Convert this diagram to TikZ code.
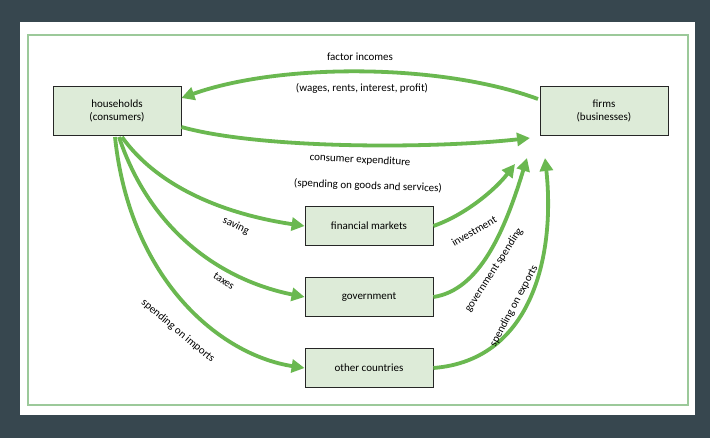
\documentclass[tikz,border=0pt]{standalone}
\usepackage{fontspec}
\setmainfont{Carlito}
\usetikzlibrary{arrows.meta}
\definecolor{bgdark}{HTML}{37474F}
\definecolor{gline}{HTML}{6AB850}
\definecolor{frame}{HTML}{9CC99A}
\definecolor{boxfill}{HTML}{DDEBD8}
\begin{document}
\begin{tikzpicture}[x=1pt,y=-1pt,
  box/.style={draw=black!85,fill=boxfill,line width=0.8pt,minimum width=128pt,align=center,font=\fontsize{11}{13}\selectfont},
  flow/.style={draw=gline,line width=3.8pt,-{Triangle[length=13pt,width=13pt]}},
  lbl/.style={font=\fontsize{11}{13}\selectfont,inner sep=1pt}]
\useasboundingbox (0,0) rectangle (710,438);
\fill[bgdark] (0,0) rectangle (710,438);
\fill[white] (20,22) rectangle (695,415);
\draw[frame,line width=1.3pt] (28,35) rectangle (688,405);
\node[box,minimum height=49pt] (hh) at (117,111) {households\\(consumers)};
\node[box,minimum height=49pt] (firms) at (604,111) {firms\\(businesses)};
\node[box,minimum height=39pt] (fm) at (369,226) {financial markets};
\node[box,minimum height=39pt] (gov) at (369,297) {government};
\node[box,minimum height=39pt] (oc) at (369,368) {other countries};
\coordinate (ft) at (538,99);
\coordinate (fb1) at (530,138);
\coordinate (fb2) at (515,164);
\coordinate (fb3) at (527,158);
\coordinate (fb4) at (545,158);
\draw[flow] (ft) .. controls (440,63) and (280,63) .. (hh.east|-0,98);
\draw[flow] (hh.east|-0,127) .. controls (260,149) and (430,149) .. (fb1);
\draw[flow] (122,137) .. controls (160,190) and (230,215) .. (fm.west);
\draw[flow] (119,137) .. controls (150,230) and (220,280) .. (gov.west);
\draw[flow] (115,137) .. controls (130,280) and (220,355) .. (oc.west);
\draw[flow] (fm.east) .. controls (465,215) and (495,190) .. (fb2);
\draw[flow] (gov.east) .. controls (480,290) and (505,230) .. (fb3);
\draw[flow] (oc.east) .. controls (535,360) and (555,250) .. (fb4);
\node[lbl] (l1) at (360,57) {factor incomes};
\node[lbl] (l2) at (362,88) {(wages, rents, interest, profit)};
\node[lbl,rotate=-3] (l3) at (360,160) {consumer expenditure};
\node[lbl,rotate=-2] (l4) at (368,186) {(spending on goods and services)};
\node[lbl,rotate=-25] (l5) at (236,226) {saving};
\node[lbl,rotate=-35] (l6) at (224,281) {taxes};
\node[lbl,rotate=-40] (l7) at (178,331) {spending on imports};
\node[lbl,rotate=30] (l8) at (474,231) {investment};
\node[lbl,rotate=57] (l9) at (494,270) {government spending};
\node[lbl,rotate=62] (l10) at (514,306) {spending on exports};
\end{tikzpicture}
\end{document}
